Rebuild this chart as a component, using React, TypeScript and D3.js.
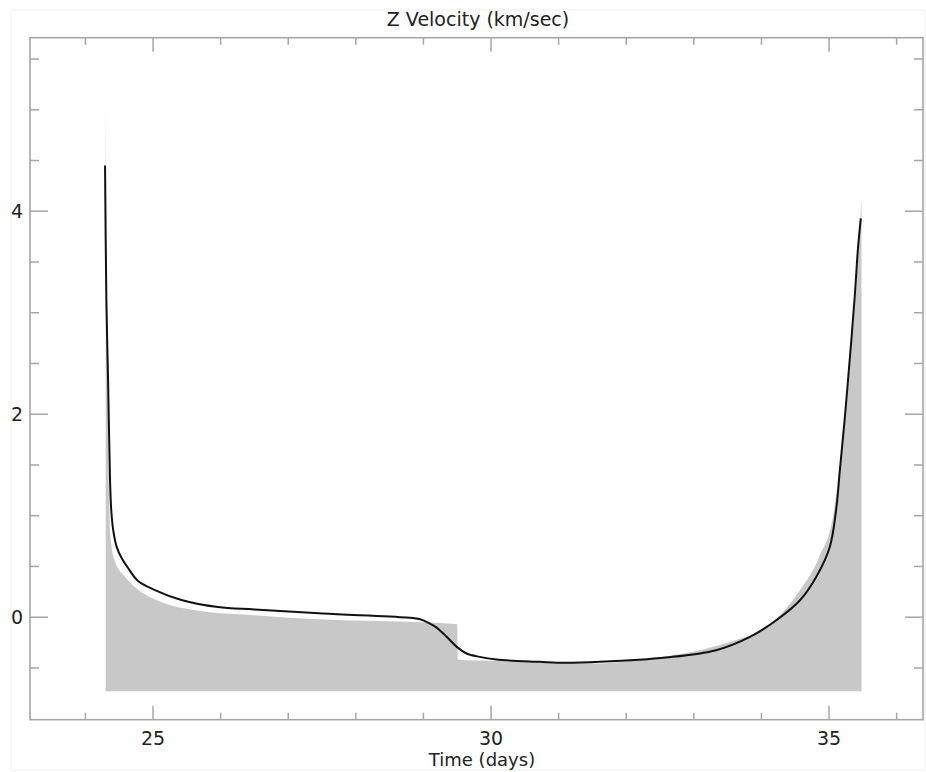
import React from 'react'
import * as d3 from 'd3'

// black curve: observed Z velocity
const lineDays = [24.29, 24.31, 24.335, 24.364, 24.382, 24.411, 24.463, 24.537, 24.626, 24.774, 25.02, 25.42, 25.96, 26.50, 27.51, 28.75, 28.95, 29.09, 29.19, 29.34, 29.49, 29.64, 29.83, 30.08, 30.72, 31.10, 31.61, 32.59, 33.33, 33.83, 34.22, 34.57, 34.81, 35.01, 35.11, 35.16, 35.23, 35.28, 35.33, 35.38, 35.43, 35.47]
const lineVel = [4.45, 3.12, 2.33, 1.35, 1.054, 0.857, 0.69, 0.58, 0.49, 0.36, 0.27, 0.17, 0.10, 0.076, 0.036, -0.003, -0.02, -0.06, -0.10, -0.19, -0.29, -0.358, -0.391, -0.417, -0.44, -0.45, -0.44, -0.397, -0.325, -0.194, -0.03, 0.167, 0.397, 0.69, 1.087, 1.45, 1.94, 2.33, 2.73, 3.16, 3.65, 3.93]

// grey shaded model
const shadeDays = [24.30, 24.315, 24.33, 24.35, 24.37, 24.43, 24.58, 24.78, 25.12, 25.62, 26.50, 27.51, 28.75, 29.50, 29.51, 30.0, 30.7, 31.0, 31.61, 32.3, 33.09, 33.6, 34.07, 34.57, 34.86, 35.06, 35.16, 35.23, 35.33, 35.43, 35.465, 35.48]
const shadeVel = [5.16, 3.0, 2.2, 1.2, 0.8, 0.56, 0.40, 0.27, 0.15, 0.069, 0.02, -0.023, -0.046, -0.069, -0.42, -0.43, -0.445, -0.455, -0.456, -0.41, -0.325, -0.23, -0.096, 0.266, 0.6, 1.0, 1.5, 1.9, 2.65, 3.55, 3.95, 4.11]
const shadeFloor = -0.73

const xMajor = [25, 30, 35]
const xMinor = d3.range(24, 37, 1)
const yMajor = [0, 2, 4]
const yMinor = d3.range(-0.5, 5.75, 0.5)

const width = 926
const height = 772
const plot = { left: 30, right: 923, top: 37.7, bottom: 719.7 }

const x = d3.scaleLinear().domain([23.18, 36.39]).range([plot.left, plot.right])
const y = d3.scaleLinear().domain([-1.01, 5.71]).range([plot.bottom, plot.top])

const axisColor = '#a6a6a6'
const font = 'DejaVu Sans, sans-serif'

export default function App() {
  const linePts: [number, number][] = lineDays.map((d, i) => [d, lineVel[i]])
  const shadePts: [number, number][] = shadeDays.map((d, i) => [d, shadeVel[i]])

  const line = d3.line<[number, number]>()
    .x(d => x(d[0]))
    .y(d => y(d[1]))
    .curve(d3.curveCatmullRom.alpha(0.5))

  const area = d3.area<[number, number]>()
    .x(d => x(d[0]))
    .y0(y(shadeFloor))
    .y1(d => y(d[1]))
    .curve(d3.curveMonotoneX)

  return (
    <svg width={width} height={height} style={{ position: 'absolute', left: 0, top: 0, background: '#fff' }}>
      <rect x={11} y={10} width={width - 12} height={height - 12} fill='none' stroke='#f2f2f2' />
      <path d={area(shadePts) || ''} fill='#c8c8c8' />
      <path d={line(linePts) || ''} fill='none' stroke='#111' strokeWidth={2} />

      {/* frame */}
      <rect x={plot.left} y={plot.top} width={plot.right - plot.left} height={plot.bottom - plot.top}
        fill='none' stroke={axisColor} strokeWidth={1.6} />

      {xMinor.map(t => {
        const major = xMajor.includes(t)
        const len = major ? 14 : 7
        return (
          <g key={'xt' + t}>
            <line x1={x(t)} x2={x(t)} y1={plot.bottom} y2={plot.bottom - len} stroke={axisColor} strokeWidth={1.5} />
            <line x1={x(t)} x2={x(t)} y1={plot.top} y2={plot.top + len} stroke={axisColor} strokeWidth={1.5} />
          </g>
        )
      })}
      {yMinor.map(t => {
        const major = yMajor.some(m => Math.abs(m - t) < 1e-6)
        const len = major ? 18 : 9
        return (
          <g key={'yt' + t}>
            <line x1={plot.left} x2={plot.left + len} y1={y(t)} y2={y(t)} stroke={axisColor} strokeWidth={1.5} />
            <line x1={plot.right} x2={plot.right - len} y1={y(t)} y2={y(t)} stroke={axisColor} strokeWidth={1.5} />
          </g>
        )
      })}

      {xMajor.map(t => (
        <text key={'xl' + t} x={x(t)} y={745} textAnchor='middle' fontFamily={font} fontSize={19} fill='#222'>{t}</text>
      ))}
      {yMajor.map(t => (
        <text key={'yl' + t} x={17} y={y(t) + 7} textAnchor='middle' fontFamily={font} fontSize={19} fill='#222'>{t}</text>
      ))}

      <text x={482} y={766} textAnchor='middle' fontFamily={font} fontSize={18} fill='#222'>Time (days)</text>
      <text x={478} y={26} textAnchor='middle' fontFamily={font} fontSize={19} fill='#222'>Z Velocity (km/sec)</text>
    </svg>
  )
}
